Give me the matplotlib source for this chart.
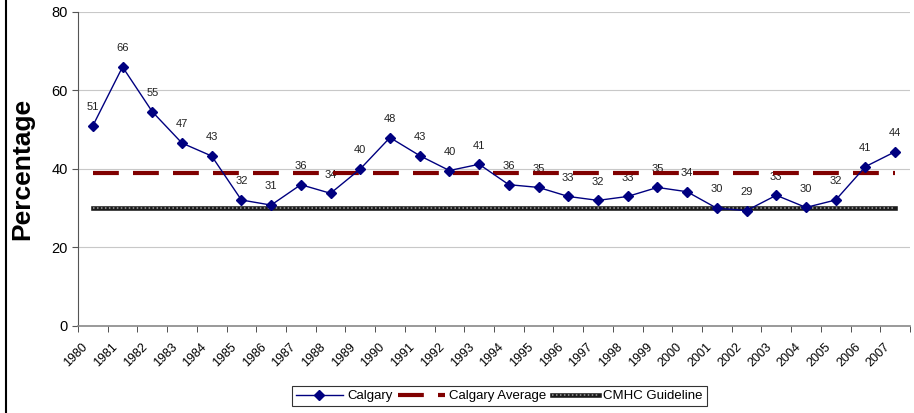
import matplotlib
matplotlib.use("Agg")
import matplotlib.pyplot as plt
from matplotlib.lines import Line2D
from matplotlib.legend_handler import HandlerTuple
from matplotlib.transforms import ScaledTranslation
import numpy as np

years = [str(y) for y in range(1980, 2008)]
calgary = [51, 66, 54.6, 46.6, 43.3, 32.1, 30.8, 36, 33.8, 40, 48, 43.4, 39.6, 41.2,
           36, 35.3, 33, 32, 33, 35.3, 34.2, 30, 29.4, 33.3, 30.2, 32.1, 40.6, 44.4]
calgary_avg = 39
cmhc_guideline = 30

plt.rcParams['font.family'] = ['Liberation Sans', 'DejaVu Sans']

fig = plt.figure(figsize=(9.14, 4.13), dpi=100)
ax = fig.add_axes([0.0853, 0.2107, 0.9103, 0.7603])

x = np.arange(len(years))
ax.set_xlim(-0.5, len(years) - 0.5)
ax.set_ylim(0, 80)
ax.set_yticks([0, 20, 40, 60, 80])
ax.yaxis.grid(True, color='#c8c8c8', lw=0.8)
ax.set_axisbelow(True)

# reference lines
avg_line, = ax.plot([x[0], x[-1]], [calgary_avg] * 2, color='#800000', lw=3,
                    dashes=(6.2, 3.4), zorder=3)
g1, = ax.plot([x[0], x[-1]], [cmhc_guideline] * 2, color='#1a1a1a', lw=3.3, zorder=2)
g2, = ax.plot([x[0], x[-1]], [cmhc_guideline] * 2, color='#a0a0a0', lw=1.1,
              dashes=(1.0, 1.6), zorder=2)

cal_line, = ax.plot(x, calgary, color='#000080', lw=1, marker='D', ms=5.5, zorder=4)
for xi, v in zip(x, calgary):
    ax.annotate(f"{int(v + 0.5)}", (xi, v), xytext=(0, 13.5), textcoords='offset points',
                ha='center', va='center', fontsize=8, color='#222222', zorder=2)

ax.set_xticks(x)
ax.set_xticklabels(years, rotation=45, ha='right', rotation_mode='anchor', fontsize=9)
ax.tick_params(axis='x', length=0, pad=11)
shift = ScaledTranslation(-0.11, 0, fig.dpi_scale_trans)
for lab in ax.get_xticklabels():
    lab.set_transform(lab.get_transform() + shift)
ax.set_xticks(np.arange(-0.5, len(years)), minor=True)
ax.tick_params(axis='x', which='minor', length=4, color='#333333')
ax.tick_params(axis='y', length=4, labelsize=10.5, color='#555555')

for s in ['top', 'right']:
    ax.spines[s].set_visible(False)
ax.spines['left'].set_color('#555555')
ax.spines['bottom'].set_color('#888888')
ax.spines['bottom'].set_linewidth(1.2)

ax.set_ylabel('Percentage', fontsize=19, fontweight='bold', labelpad=12)

leg = fig.legend([cal_line, avg_line, (g1, g2)],
                 ['Calgary', 'Calgary Average', 'CMHC Guideline'],
                 handler_map={tuple: HandlerTuple(ndivide=1, pad=0)},
                 loc='lower center', bbox_to_anchor=(0.546, 0.0), ncol=3, fontsize=9.5,
                 frameon=True, fancybox=False, edgecolor='black', handlelength=3.6,
                 columnspacing=0.4, handletextpad=0.3, borderpad=0.3)
leg.get_frame().set_linewidth(0.8)

fig.add_artist(Line2D([0.0065, 0.0065], [0, 1], color='black', lw=1.5))

fig.savefig('out.png', dpi=100)
